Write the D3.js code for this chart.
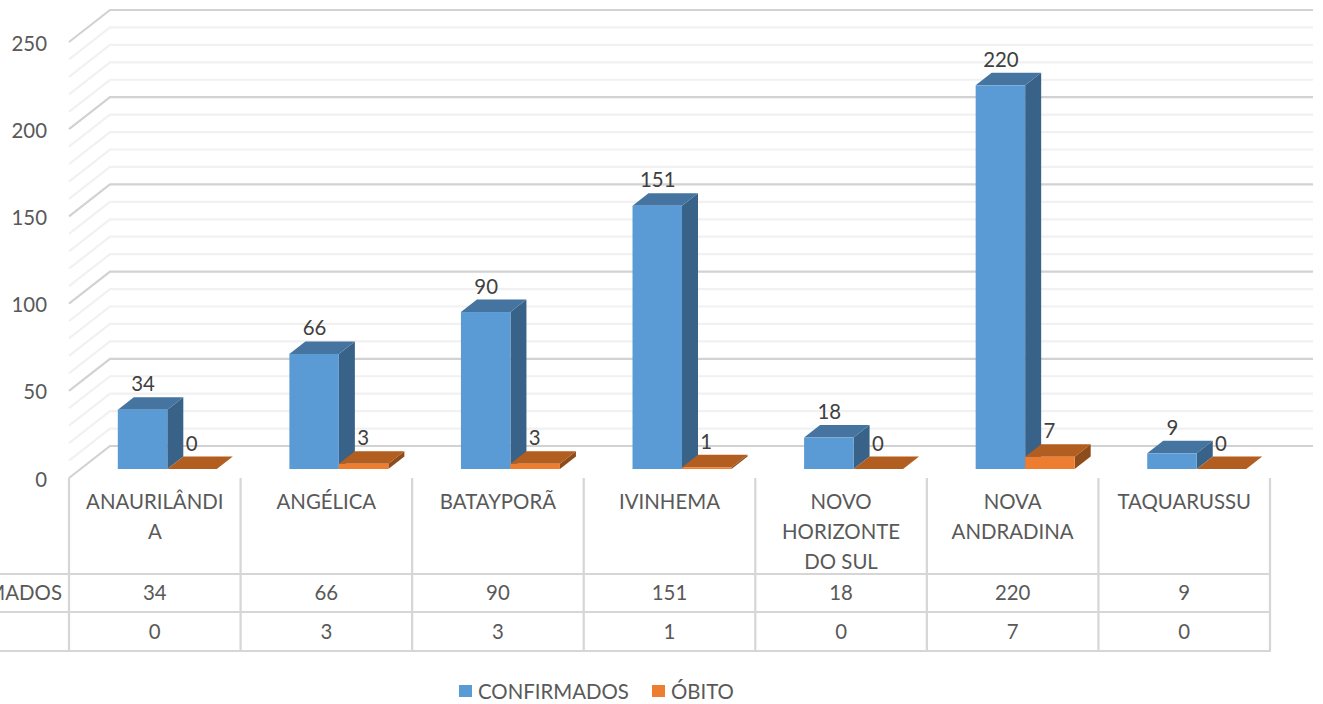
<!DOCTYPE html>
<html><head><meta charset="utf-8">
<script src="https://cdnjs.cloudflare.com/ajax/libs/d3/7.8.5/d3.min.js"></script>
<style>html,body{margin:0;padding:0;background:#fff;overflow:hidden}svg{display:block}text{font-family:Lato,"Open Sans",sans-serif}</style>
</head><body><svg id="c" width="1323" height="704"></svg>
<script>
const categories=[["ANAURILÂNDI","A"],["ANGÉLICA"],["BATAYPORÃ"],["IVINHEMA"],["NOVO","HORIZONTE","DO SUL"],["NOVA","ANDRADINA"],["TAQUARUSSU"]];
const confirmados=[34,66,90,151,18,220,9];
const obito=[0,3,3,1,0,7,0];
const seriesNames=["CONFIRMADOS","ÓBITO"];
const yTicks=[0,50,100,150,200,250];

const svg=d3.select("#c");
const C={major:"#d2d2d2",minor:"#f1f1f1",cell:"#d6d6d6",text:"#595959",label:"#404040",
 blue:["#5b9bd5","#44749f","#386288"],orange:["#ed7d31","#b15e20","#8e4c1a"]};
const y=d3.scaleLinear().domain([0,250]).range([478,42]);
const x=d3.scaleBand().domain(d3.range(7)).range([69,1270]);
const wallDX=41,wallDY=-32,barDX=16,barDY=-12.5,barBase=-9,barW=49.5,fs=20.4;
const xRight=1313;

// grid
d3.range(0,251,10).reverse().forEach(v=>{
 const maj=v%50===0, yy=y(v);
 svg.append("path").attr("fill","none").attr("stroke",maj?C.major:C.minor).attr("stroke-width",2.2)
  .attr("d",`M${x.range()[0]},${yy}L${x.range()[0]+wallDX},${yy+wallDY}L${xRight},${yy+wallDY}`);
});

// y axis
const ax=svg.append("g").attr("transform","translate(47,0)").call(d3.axisLeft(y).tickValues(yTicks).tickSize(0).tickPadding(0));
ax.select(".domain").remove();
ax.selectAll("text").attr("font-size",fs).attr("font-family","Lato").attr("fill",C.text).attr("dy","0.4em");

// bars
function bar(i,v,k,cols){
 const x0=x(i)+48.8+k*barW, x1=x0+barW, yb=y(0)+barBase, yt=y(v)+barBase;
 const g=svg.append("g");
 const P=a=>a.map(p=>p.join(",")).join(" ");
 g.append("polygon").attr("fill",cols[2]).attr("points",P([[x1,yb],[x1+barDX,yb+barDY],[x1+barDX,yt+barDY],[x1,yt]]));
 g.append("polygon").attr("fill",cols[1]).attr("points",P([[x0,yt],[x0+barDX,yt+barDY],[x1+barDX,yt+barDY],[x1,yt]]));
 g.append("rect").attr("fill",cols[0]).attr("x",x0).attr("y",yt).attr("width",barW).attr("height",yb-yt);
 g.append("text").attr("x",x0+barW/2+(k?-0.5:0.5)).attr("y",yt-18.5).attr("text-anchor","middle").attr("font-size",fs).attr("fill",C.label).text(v);
}
categories.forEach((c,i)=>{bar(i,confirmados[i],0,C.blue);});
categories.forEach((c,i)=>{bar(i,obito[i],1,C.orange);});

// table
const rows=[478,574,612,651];
const tg=svg.append("g").attr("stroke",C.cell).attr("stroke-width",2.2).attr("fill","none");
d3.range(8).forEach(i=>{const xx=i===7?x.range()[1]:x(i);
 tg.append("line").attr("x1",xx).attr("x2",xx).attr("y1",rows[0]).attr("y2",rows[3]);});
rows.slice(1).forEach(r=>tg.append("line").attr("x1",0).attr("x2",x.range()[1]+1).attr("y1",r).attr("y2",r));

categories.forEach((c,i)=>{
 const cx=x(i)+x.bandwidth()/2;
 c.forEach((t,j)=>svg.append("text").attr("x",cx).attr("y",509+j*30).attr("text-anchor","middle").attr("font-size",fs).attr("fill",C.text).text(t));
 svg.append("text").attr("x",cx).attr("y",600).attr("text-anchor","middle").attr("font-size",fs).attr("fill",C.text).text(confirmados[i]);
 svg.append("text").attr("x",cx).attr("y",639).attr("text-anchor","middle").attr("font-size",fs).attr("fill",C.text).text(obito[i]);
});
svg.append("text").attr("x",62).attr("y",600).attr("text-anchor","end").attr("font-size",fs).attr("fill",C.text).text(seriesNames[0]);

// legend
[[459,C.blue[0],478,seriesNames[0]],[652,C.orange[0],671,seriesNames[1]]].forEach(([sx,col,tx,t])=>{
 svg.append("rect").attr("x",sx).attr("y",685).attr("width",13).attr("height",12).attr("fill",col);
 svg.append("text").attr("x",tx).attr("y",699).attr("font-size",fs).attr("fill",C.text).text(t);
});
</script></body></html>
